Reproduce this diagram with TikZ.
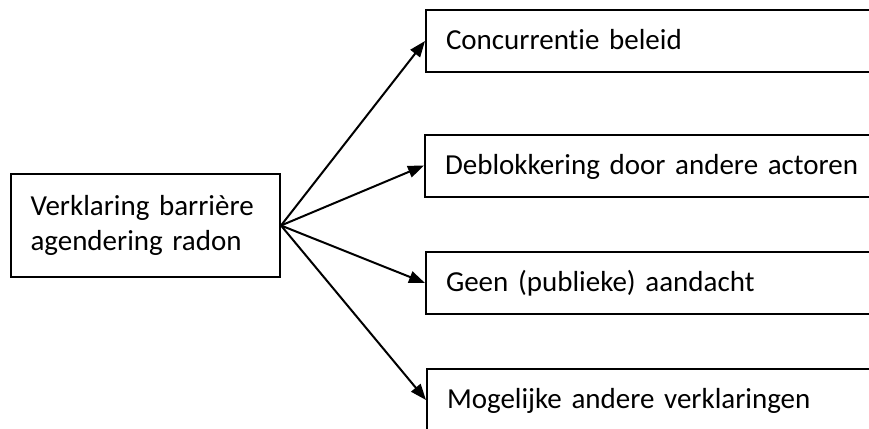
\documentclass[tikz,border=0pt]{standalone}
\usepackage{fontspec}
\setmainfont{Carlito}[Ligatures=NoCommon]
\usetikzlibrary{arrows.meta}

\begin{document}
\begin{tikzpicture}[x=1pt,y=-1pt,
        font=\fontsize{29}{35}\selectfont,
        causebox/.style={draw,line width=2pt,anchor=west,align=left,
            text width=230pt,inner xsep=19.5pt,minimum height=103pt},
        factorbox/.style={draw,line width=2pt,anchor=west,align=left,
            text width=460pt,inner xsep=20pt,minimum height=62pt,
            text height=22pt,text depth=5pt},
        arr/.style={line width=2pt,-{Triangle[length=16pt,width=12pt]}}]
\useasboundingbox (0,0) rectangle (869,428);
\clip (0,0) rectangle (869,428);

\node[causebox] (cause) at (10,225.5) {Verklaring barri\`ere\\agendering radon};

\node[factorbox] (concurrentie) at (425,41) {Concurrentie beleid};
\node[factorbox] (deblokkering) at (424,165.5) {Deblokkering door andere actoren};
\node[factorbox] (aandacht) at (425,283) {Geen (publieke) aandacht};
\node[factorbox] (verklaringen) at (426,400) {Mogelijke andere verklaringen};

\draw[arr] (cause.east) -- (concurrentie.west);
\draw[arr] (cause.east) -- (deblokkering.west);
\draw[arr] (cause.east) -- (aandacht.west);
\draw[arr] (cause.east) -- (verklaringen.west);

\end{tikzpicture}
\end{document}
